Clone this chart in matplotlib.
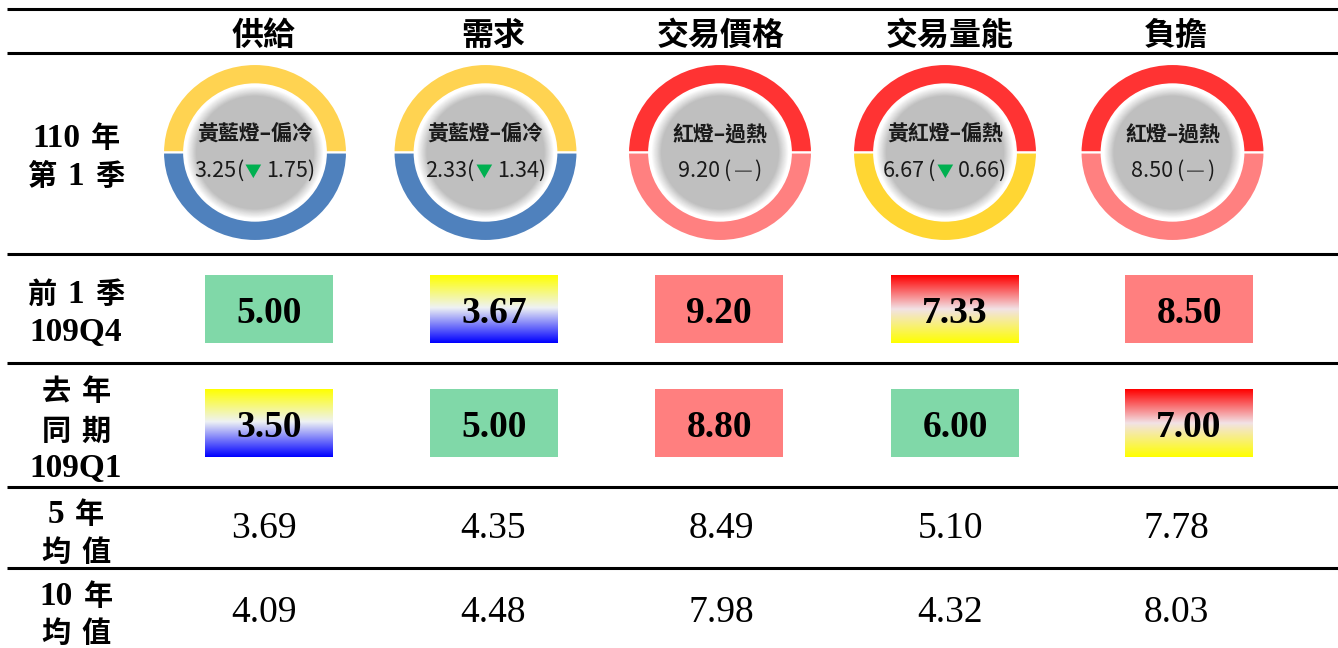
import matplotlib.pyplot as plt
import numpy as np
from matplotlib.colors import LinearSegmentedColormap
from matplotlib.patches import Circle, Rectangle

plt.rcParams["font.family"] = ["Noto Sans CJK TC", "DejaVu Sans"]

# 欄位
columns = ["供給", "需求", "交易價格", "交易量能", "負擔"]

# 110 年第 1 季 (圓環燈號)
now_light = ["黃藍燈", "黃藍燈", "紅燈", "黃紅燈", "紅燈"]
now_status = ["偏冷", "偏冷", "過熱", "偏熱", "過熱"]
now_score = [3.25, 2.33, 9.20, 6.67, 8.50]
now_change = [-1.75, -1.34, 0.0, -0.66, 0.0]

# 前 1 季 109Q4
prev_score = [5.00, 3.67, 9.20, 7.33, 8.50]
prev_light = ["綠燈", "黃藍燈", "紅燈", "黃紅燈", "紅燈"]

# 去年同期 109Q1
yoy_score = [3.50, 5.00, 8.80, 6.00, 7.00]
yoy_light = ["黃藍燈", "綠燈", "紅燈", "綠燈", "黃紅燈"]

# 均值
avg5 = [3.69, 4.35, 8.49, 5.10, 7.78]
avg10 = [4.09, 4.48, 7.98, 4.32, 8.03]

row_labels = [["110 年", "第 1 季"], ["前 1 季", "109Q4"], ["去 年", "同 期", "109Q1"],
              ["5 年", "均 值"], ["10 年", "均 值"]]

# 樣式
ring_colors = {"黃藍燈": ("#FFD351", "#4F81BD"), "紅燈": ("#FF3333", "#FF8080"),
               "黃紅燈": ("#FF3333", "#FFD633")}
box_styles = {
    "綠燈": "#80D8A8",
    "紅燈": "#FF7F7F",
    "黃藍燈": LinearSegmentedColormap.from_list(
        "yb", [(0, "#FFFF00"), (0.48, "#EEF2F4"), (1, "#0000FF")]),
    "黃紅燈": LinearSegmentedColormap.from_list(
        "ry", [(0, "#FF0000"), (0.5, "#F2E2E6"), (1, "#FFFF00")]),
}

W, H = 1338, 648
col_x = [264, 493, 721, 950, 1176]
donut_x = [255, 485.5, 720, 945, 1172.5]
box_x = [269, 494, 719, 955, 1189]
paren_gap = [0, 0, 4, 4, 4]
label_base = [[147, 185], [303, 341], [400, 440, 477], [523, 561], [605, 642]]

serif = "Liberation Serif"

fig = plt.figure(figsize=(W / 100, H / 100), dpi=100)
ax = fig.add_axes([0, 0, 1, 1])

# 圓環
rx, ry, cy = 92, 88.5, 152.5
for i, cx in enumerate(donut_x):
    dax = fig.add_axes([(cx - rx) / W, 1 - (cy + ry) / H, 2 * rx / W, 2 * ry / H])
    hi, lo = ring_colors[now_light[i]]
    dax.pie([1, 1], colors=[hi, lo], startangle=0, radius=1,
            wedgeprops=dict(width=0.23, edgecolor="white", linewidth=1.5))
    for r in np.linspace(0.75, 0.64, 14):
        t = (0.75 - r) / (0.75 - 0.64)
        g = 1 - t * (1 - 0.75)
        dax.add_patch(Circle((0, 0), r, color=(g, g, g), lw=0))
    dax.set_xlim(-1, 1)
    dax.set_ylim(-1, 1)
    dax.set_aspect("auto")
    dax.axis("off")

top = fig.add_axes([0, 0, 1, 1])
for a in (ax, top):
    a.set_xlim(0, W)
    a.set_ylim(H, 0)
    a.axis("off")
rend = fig.canvas.get_renderer()


def runs(x, y, parts):
    arts = [top.text(0, y, s, ha="left", va="baseline", **kw) for s, g, kw in parts]
    ws = [a.get_window_extent(renderer=rend).width for a in arts]
    total = sum(ws) + sum(g for _, g, _ in parts[:-1])
    cur = x - total / 2
    for a, w, (_, g, _) in zip(arts, ws, parts):
        a.set_x(cur)
        cur += w + g


# 格線
ax.hlines([8.5, 52.5, 253.5, 363, 486.5, 568], 7, W, color="black", lw=2.2)

# 標題列
for x, name in zip(col_x, columns):
    top.text(x, 45, name, ha="center", va="baseline", fontsize=23,
             fontweight="bold", color="black")

# 列標籤
for lines, bases in zip(row_labels, label_base):
    for line, b in zip(lines, bases):
        parts = []
        for tok in line.split(" "):
            if tok.isascii():
                kw = dict(family=serif, fontsize=24, fontweight="bold")
            else:
                kw = dict(fontsize=21, fontweight="bold")
            parts.append((tok, 11, kw))
        runs(76, b, parts)

# 圓環文字
for i, cx in enumerate(donut_x):
    top.text(cx, 141, f"{now_light[i]}–{now_status[i]}", ha="center", va="baseline",
             fontsize=15, fontweight="bold", color="#1A1A1A")
    num = dict(fontsize=15.5, color="#1A1A1A")
    if now_change[i] < 0:
        parts = [(f"{now_score[i]:.2f}", paren_gap[i], num), ("(", 1, num),
                 ("▼", 5, dict(fontsize=12, color="#00B050")),
                 (f"{abs(now_change[i]):.2f})", 0, num)]
    else:
        parts = [(f"{now_score[i]:.2f}", paren_gap[i], num), ("(", 2, num),
                 ("—", 2, dict(fontsize=15, color="#595959")), (")", 0, num)]
    runs(cx, 177, parts)

# 燈號方塊
bw, bh = 128, 68
grad = np.linspace(0, 1, 200).reshape(-1, 1)
for scores, lights, cyb in ((prev_score, prev_light, 309), (yoy_score, yoy_light, 423)):
    for bx, val, light in zip(box_x, scores, lights):
        x0, y0 = bx - bw / 2, cyb - bh / 2
        style = box_styles[light]
        if isinstance(style, str):
            ax.add_patch(Rectangle((x0, y0), bw, bh, color=style, lw=0))
        else:
            ax.imshow(grad, cmap=style, extent=(x0, x0 + bw, y0 + bh, y0),
                      origin="upper", aspect="auto", interpolation="bilinear")
        top.text(bx, cyb + 14, f"{val:.2f}", ha="center", va="baseline",
                 family=serif, fontsize=27, fontweight="bold", color="black")

# 均值
for vals, b in ((avg5, 538), (avg10, 622)):
    for x, v in zip(col_x, vals):
        top.text(x, b, f"{v:.2f}", ha="center", va="baseline", family=serif,
                 fontsize=27, color="black")

ax.set_xlim(0, W)
ax.set_ylim(H, 0)
fig.savefig("out.png", dpi=100)
